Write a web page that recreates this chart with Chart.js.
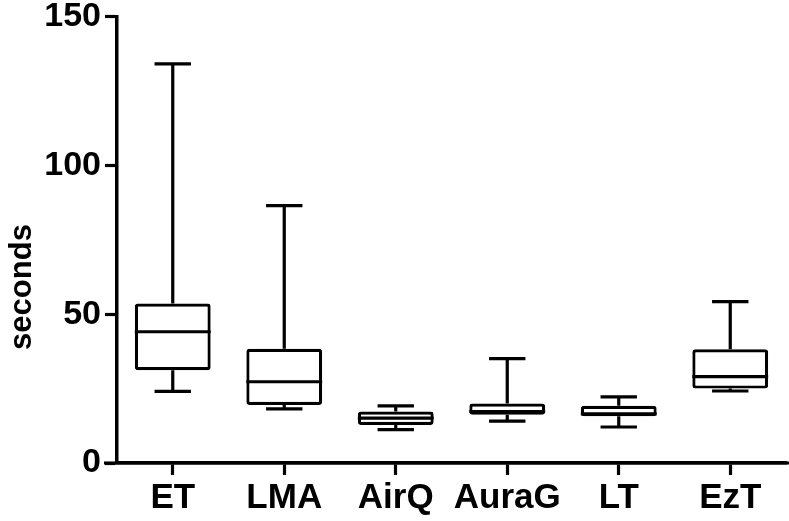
<!DOCTYPE html>
<html><head><meta charset="utf-8">
<script src="https://cdn.jsdelivr.net/npm/chart.js@4.4.0/dist/chart.umd.min.js"></script>
<style>html,body{margin:0;padding:0;background:#fff;} canvas{display:block;}</style>
</head><body>
<canvas id="c" width="789" height="521"></canvas>
<script>
const categories = ['ET', 'LMA', 'AirQ', 'AuraG', 'LT', 'EzT'];
const minValues = [24.1, 18.2, 11.2, 14.1, 12.1, 24.2];
const q1Values = [31.2, 19.5, 12.8, 16.2, 15.7, 25.0];
const medianValues = [44.1, 27.3, 15.1, 17.3, 16.5, 29.0];
const q3Values = [53.6, 38.4, 17.3, 20.0, 19.2, 38.2];
const maxValues = [134.1, 86.5, 19.2, 35.1, 22.2, 54.2];
const yTicks = [0, 50, 100, 150];
const yTitle = 'seconds';

const FONT = '"Liberation Sans", Arial, sans-serif';
const LW = 3.2;

const boxPlugin = {
  id: 'boxWhisker',
  afterDatasetsDraw(chart) {
    const ctx = chart.ctx;
    const xs = chart.scales.x, ys = chart.scales.y;
    const meta = chart.getDatasetMeta(0);
    ctx.save();
    ctx.strokeStyle = '#000';
    ctx.lineWidth = LW;
    ctx.lineCap = 'butt';
    categories.forEach((c, i) => {
      const x = xs.getPixelForValue(i);
      const bw = meta.data[i].width;
      const capHalf = bw * 0.24;
      const yMin = ys.getPixelForValue(minValues[i]);
      const yQ1 = ys.getPixelForValue(q1Values[i]);
      const yMed = ys.getPixelForValue(medianValues[i]);
      const yQ3 = ys.getPixelForValue(q3Values[i]);
      const yMax = ys.getPixelForValue(maxValues[i]);
      ctx.beginPath();
      ctx.moveTo(x, yQ3); ctx.lineTo(x, yMax);
      ctx.moveTo(x - capHalf, yMax); ctx.lineTo(x + capHalf, yMax);
      ctx.moveTo(x, yQ1); ctx.lineTo(x, yMin);
      ctx.moveTo(x - capHalf, yMin); ctx.lineTo(x + capHalf, yMin);
      ctx.moveTo(x - bw / 2, yMed); ctx.lineTo(x + bw / 2, yMed);
      ctx.stroke();
    });
    const yb = ys.getPixelForValue(0);
    ctx.beginPath();
    ctx.moveTo(chart.chartArea.left - 13, yb);
    ctx.lineTo(chart.width, yb);
    ctx.stroke();
    ctx.fillStyle = '#000';
    ctx.font = 'bold 31px ' + FONT;
    ctx.textAlign = 'center';
    ctx.textBaseline = 'middle';
    ctx.translate(22, 287);
    ctx.rotate(-Math.PI / 2);
    ctx.fillText(yTitle, 0, 0);
    ctx.restore();
  }
};

new Chart(document.getElementById('c'), {
  type: 'bar',
  data: {
    labels: categories,
    datasets: [{
      label: 'IQR',
      data: categories.map((c, i) => [q1Values[i], q3Values[i]]),
      backgroundColor: '#fff',
      borderColor: '#000',
      borderWidth: LW,
      borderSkipped: false,
      borderRadius: 3,
      barPercentage: 0.68,
      categoryPercentage: 1.0
    }]
  },
  options: {
    responsive: false,
    animation: false,
    events: [],
    layout: { padding: { left: 0, right: 3, top: 0, bottom: 0 } },
    plugins: { legend: { display: false }, tooltip: { enabled: false }, title: { display: false } },
    scales: {
      x: {
        type: 'category',
        offset: true,
        grid: { display: true, drawOnChartArea: false, drawTicks: true, tickLength: 12, tickWidth: LW, tickColor: '#000', offset: false },
        border: { display: true, width: 3.5, color: '#000' },
        ticks: { color: '#000', font: { family: FONT, size: 35, weight: 'bold' }, padding: 2, maxRotation: 0, autoSkip: false }
      },
      y: {
        min: 0, max: 150,
        afterBuildTicks(s) { s.ticks = yTicks.map(v => ({ value: v })); },
        afterFit(s) { s.width = 117; },
        grid: { display: true, drawOnChartArea: false, drawTicks: true, tickLength: 12, tickWidth: LW, tickColor: '#000' },
        border: { display: true, width: 3.5, color: '#000' },
        ticks: { color: '#000', font: { family: FONT, size: 34, weight: 'bold', lineHeight: 0.74 }, padding: 4 }
      }
    }
  },
  plugins: [boxPlugin]
});
</script>
</body></html>
